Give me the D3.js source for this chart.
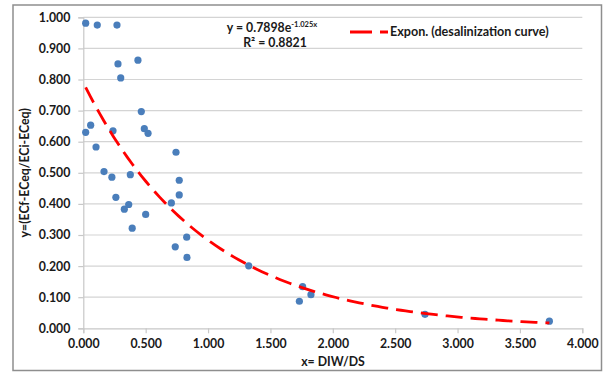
<!DOCTYPE html>
<html>
<head>
<meta charset="utf-8">
<script src="https://cdn.jsdelivr.net/npm/d3@7"></script>
<style>
  html, body { margin: 0; padding: 0; background: #fff; }
  svg { display: block; }
  text { font-family: Lato, "Open Sans", sans-serif; font-weight: bold; fill: #1a1a1a; }
</style>
</head>
<body>
<svg id="chart" width="606" height="372"></svg>
<script>
// ---- data ----
const xValues = [0.019, 0.112, 0.270, 0.278, 0.300, 0.438, 0.465, 0.019, 0.059, 0.238,
                 0.489, 0.519, 0.102, 0.743, 0.166, 0.229, 0.377, 0.769, 0.261, 0.769,
                 0.706, 0.329, 0.364, 0.500, 0.392, 0.829, 0.737, 0.831, 1.326, 1.732,
                 1.758, 1.825, 2.739, 3.736];
const yValues = [0.981, 0.975, 0.975, 0.850, 0.805, 0.862, 0.697, 0.630, 0.653, 0.635,
                 0.642, 0.627, 0.583, 0.566, 0.504, 0.486, 0.494, 0.476, 0.421, 0.429,
                 0.403, 0.383, 0.398, 0.366, 0.322, 0.293, 0.262, 0.228, 0.201, 0.087,
                 0.134, 0.108, 0.045, 0.023];
const xTicks = [0, 0.5, 1.0, 1.5, 2.0, 2.5, 3.0, 3.5, 4.0];
const yTicks = [0, 0.1, 0.2, 0.3, 0.4, 0.5, 0.6, 0.7, 0.8, 0.9, 1.0];
// fitted exponential trendline shown in the chart: y = a * e^(b x)
const trendA = 0.7898;
const trendB = -1.025;
const trendR2 = 0.8821;
const legendLabel = "Expon. (desalinization curve)";
const xTitle = "x= DIW/DS";
const yTitle = "y=(ECf-ECeq/ECi-ECeq)";

const points = xValues.map((x, i) => ({x, y: yValues[i]}));

const svg = d3.select("#chart");
const plotLeft = 83.3, plotRight = 582.3, plotTop = 17.3, plotBottom = 328.3;
const x = d3.scaleLinear().domain([0, 4]).range([plotLeft, plotRight]);
const y = d3.scaleLinear().domain([0, 1]).range([plotBottom, plotTop]);

// chart border
svg.append("rect").attr("x", 13).attr("y", 5).attr("width", 588.5).attr("height", 365.5)
  .attr("fill", "#fff").attr("stroke", "#8e8e8e").attr("stroke-width", 1.5);

// gridlines
svg.append("g").selectAll("line").data(yTicks.filter(d => d > 0)).join("line")
  .attr("x1", plotLeft).attr("x2", plotRight)
  .attr("y1", d => y(d)).attr("y2", d => y(d))
  .attr("stroke", "#d4d4d4").attr("stroke-width", 1.2);

// y axis
const yAxis = svg.append("g").attr("transform", `translate(${plotLeft},0)`)
  .call(d3.axisLeft(y).tickValues(yTicks).tickFormat(d3.format(".3f")).tickSize(5).tickPadding(8));
// x axis
const xAxis = svg.append("g").attr("transform", `translate(0,${plotBottom})`)
  .call(d3.axisBottom(x).tickValues(xTicks).tickFormat(d3.format(".3f")).tickSize(5).tickPadding(6));
[yAxis, xAxis].forEach(g => {
  g.select(".domain").attr("stroke", "#c8c8c8").attr("stroke-width", 1.2);
  g.selectAll(".tick line").attr("stroke", "#c8c8c8").attr("stroke-width", 1.2);
  g.selectAll(".tick text").attr("font-family", "Lato, sans-serif").attr("font-weight", "bold")
    .attr("font-size", 12.3).attr("fill", "#1a1a1a");
});

// points
svg.append("g").selectAll("circle").data(points).join("circle")
  .attr("cx", d => x(d.x)).attr("cy", d => y(d.y)).attr("r", 3.6)
  .attr("fill", "#4a7ebb");

// trendline
const xMin = d3.min(xValues), xMax = d3.max(xValues);
const trendData = d3.range(0, 101).map(i => {
  const xv = xMin + (xMax - xMin) * i / 100;
  return {x: xv, y: trendA * Math.exp(trendB * xv)};
});
svg.append("path").datum(trendData)
  .attr("d", d3.line().x(d => x(d.x)).y(d => y(d.y)))
  .attr("fill", "none").attr("stroke", "#ff0000").attr("stroke-width", 2.8)
  .attr("stroke-dasharray", "17,8");

// equation
const eq = svg.append("text").attr("x", 272).attr("y", 32).attr("text-anchor", "middle")
  .attr("font-size", 12.3);
eq.append("tspan").text("y = " + trendA.toFixed(4) + "e");
eq.append("tspan").attr("font-size", 7.5).attr("dy", -5).text(trendB.toFixed(3) + "x");
svg.append("text").attr("x", 275).attr("y", 46.5).attr("text-anchor", "middle")
  .attr("font-size", 12.3).text("R² = " + trendR2.toFixed(4));

// legend
svg.append("line").attr("x1", 350).attr("x2", 388).attr("y1", 32).attr("y2", 32)
  .attr("stroke", "#ff0000").attr("stroke-width", 2.8).attr("stroke-dasharray", "22,8");
svg.append("text").attr("x", 390).attr("y", 36).attr("font-size", 12.6).text(legendLabel);

// axis titles
svg.append("text").attr("x", 333).attr("y", 366).attr("text-anchor", "middle")
  .attr("font-size", 12.3).text(xTitle);
svg.append("text").attr("transform", `translate(29,${(plotTop + plotBottom) / 2}) rotate(-90)`)
  .attr("text-anchor", "middle").attr("font-size", 12.3).text(yTitle);
</script>
</body>
</html>
